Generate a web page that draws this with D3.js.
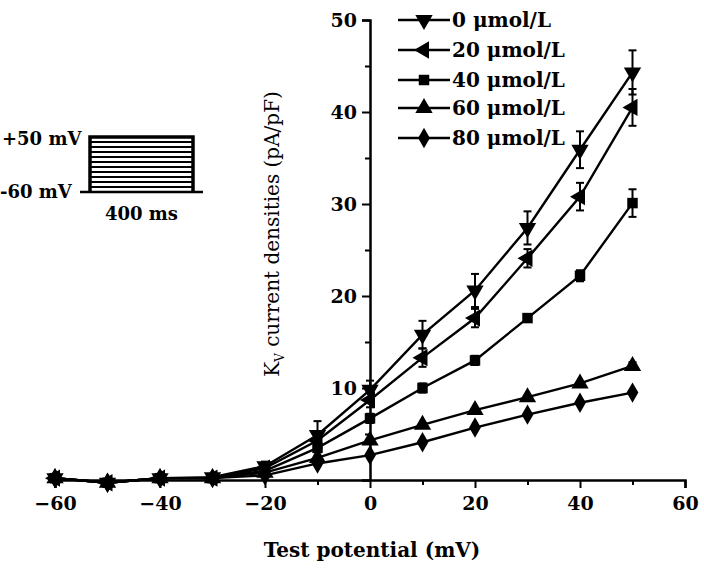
<!DOCTYPE html>
<html><head><meta charset="utf-8">
<script src="https://cdn.jsdelivr.net/npm/d3@7/dist/d3.min.js"></script>
<style>
html,body{margin:0;padding:0;background:#fff;}
text{font-family:"DejaVu Serif","Liberation Serif",serif;font-weight:bold;fill:#000;}
</style></head>
<body><svg id="c" width="704" height="576"></svg>
<script>
// ---- data ----
const potentials = [-60,-50,-40,-30,-20,-10,0,10,20,30,40,50];
const seriesNames = ["0 μmol/L","20 μmol/L","40 μmol/L","60 μmol/L","80 μmol/L"];
const values0  = [0.2,-0.3,0.2,0.3,1.5,4.9,9.8,15.8,20.6,27.4,35.9,44.3];
const values20 = [0.2,-0.3,0.2,0.2,1.3,4.3,8.7,13.3,17.6,24.1,30.8,40.5];
const values40 = [0.2,-0.3,0.2,0.2,1.0,3.5,6.7,10.0,13.0,17.6,22.2,30.1];
const values60 = [0.2,-0.3,0.2,0.2,0.8,2.4,4.3,6.0,7.6,9.0,10.5,12.4];
const values80 = [0.2,-0.3,0.2,0.2,0.5,1.8,2.7,4.1,5.7,7.1,8.4,9.5];
const errors0  = [0.3,0.3,0.3,0.3,0.5,1.5,1.0,1.5,1.8,1.8,2.0,2.4];
const errors20 = [0.3,0.3,0.3,0.3,0.4,1.0,0.8,1.0,1.0,1.0,1.5,2.0];
const errors40 = [0.3,0.3,0.3,0.3,0.3,0.5,0.5,0.5,0.5,0.4,0.6,1.5];
const errors60 = [0.3,0.3,0.3,0.3,0.3,0.3,0.3,0.3,0.3,0.3,0.3,0.4];
const errors80 = [0.3,0.3,0.3,0.3,0.3,0.3,0.3,0.3,0.3,0.3,0.3,0.3];
const xTicks = [-60,-40,-20,0,20,40,60];
const xMinorTicks = [-50,-30,-10,10,30,50];
const yTicks = [10,20,30,40,50];
const yMinorTicks = [5,15,25,35,45];
const pulseLevels = [-60,-50,-40,-30,-20,-10,0,10,20,30,40,50];

const svg = d3.select("#c");
const x = d3.scaleLinear().domain([-60,60]).range([55,685]);
const y = d3.scaleLinear().domain([0,50]).range([480,20]);

const symbols = [
  d3.symbol().type(d3.symbolTriangle).size(130),
  d3.symbol().type(d3.symbolTriangle).size(130),
  d3.symbol().type(d3.symbolSquare).size(110),
  d3.symbol().type(d3.symbolTriangle).size(130),
  d3.symbol().type(d3.symbolDiamond).size(120)
];
const rotations = [180, -90, 0, 0, 0];

// axes
const xAxis = d3.axisBottom(x).tickValues(xTicks).tickSize(8).tickPadding(9).tickFormat(d3.format("d"));
const gx = svg.append("g").attr("transform","translate(0,"+y(0)+")").call(xAxis);
gx.selectAll("line").attr("stroke-width",2);
gx.select(".domain").attr("stroke-width",2.5);
gx.selectAll("text").style("font-size","19px").style("font-family","DejaVu Serif");
svg.append("g").attr("transform","translate(0,"+y(0)+")")
  .call(d3.axisBottom(x).tickValues(xMinorTicks).tickSize(5).tickFormat(""))
  .call(g=>{g.select(".domain").remove(); g.selectAll("line").attr("stroke-width",2);});

const yAxis = d3.axisLeft(y).tickValues(yTicks).tickSize(8).tickPadding(5);
const gy = svg.append("g").attr("transform","translate("+x(0)+",0)").call(yAxis);
gy.selectAll("line").attr("stroke-width",2);
gy.select(".domain").attr("stroke-width",2.5);
gy.selectAll("text").style("font-size","19px").style("font-family","DejaVu Serif");
svg.append("g").attr("transform","translate("+x(0)+",0)")
  .call(d3.axisLeft(y).tickValues(yMinorTicks).tickSize(5).tickFormat(""))
  .call(g=>{g.select(".domain").remove(); g.selectAll("line").attr("stroke-width",2);});

// series
const allVals = [values0,values20,values40,values60,values80];
const allErr = [errors0,errors20,errors40,errors60,errors80];
const line = d3.line().x(d=>x(d[0])).y(d=>y(d[1]));
allVals.forEach((vals,i)=>{
  const pts = potentials.map((p,j)=>[p,vals[j],allErr[i][j]]);
  const g = svg.append("g");
  g.append("path").datum(pts).attr("d",line).attr("fill","none").attr("stroke","#000").attr("stroke-width",2.4);
  const eb = g.selectAll(".eb").data(pts.filter(d=>d[2]>0.35)).enter().append("g");
  eb.append("line").attr("x1",d=>x(d[0])).attr("x2",d=>x(d[0]))
    .attr("y1",d=>y(d[1]+d[2])).attr("y2",d=>y(d[1]-d[2])).attr("stroke","#000").attr("stroke-width",2);
  eb.append("line").attr("x1",d=>x(d[0])-4).attr("x2",d=>x(d[0])+4)
    .attr("y1",d=>y(d[1]+d[2])).attr("y2",d=>y(d[1]+d[2])).attr("stroke","#000").attr("stroke-width",2);
  eb.append("line").attr("x1",d=>x(d[0])-4).attr("x2",d=>x(d[0])+4)
    .attr("y1",d=>y(d[1]-d[2])).attr("y2",d=>y(d[1]-d[2])).attr("stroke","#000").attr("stroke-width",2);
  g.selectAll(".pt").data(pts).enter().append("path")
    .attr("d",symbols[i]).attr("fill","#000")
    .attr("transform",d=>"translate("+x(d[0])+","+y(d[1])+") rotate("+rotations[i]+")");
});

// legend
const legRows = [20,50,80,108,138];
seriesNames.forEach((n,i)=>{
  const g = svg.append("g").attr("transform","translate(0,"+legRows[i]+")");
  g.append("line").attr("x1",398).attr("x2",450).attr("y1",0).attr("y2",0).attr("stroke","#000").attr("stroke-width",2.4);
  g.append("path").attr("d",symbols[i]).attr("fill","#000").attr("transform","translate(424,0) rotate("+rotations[i]+")");
  g.append("text").attr("x",452).attr("y",7).style("font-size","20px").text(n);
});

// axis titles
svg.append("text").attr("x",372).attr("y",557).attr("text-anchor","middle").style("font-size","20px").text("Test potential (mV)");
const yl = svg.append("text").attr("transform","translate(279,234) rotate(-90)").attr("text-anchor","middle")
  .style("font-size","20px").style("font-weight","normal");
yl.append("tspan").text("K");
yl.append("tspan").attr("dy",5).style("font-size","12px").text("V");
yl.append("tspan").attr("dy",-5).text(" current densities (pA/pF)");

// inset voltage protocol
const ix = d3.scaleLinear().domain([0,400]).range([90,193]);
const iy = d3.scaleLinear().domain([-60,50]).range([192,137]);
const ig = svg.append("g");
pulseLevels.forEach(v=>{
  ig.append("path").attr("d","M"+ix(0)+","+iy(-60)+"V"+iy(v)+"H"+ix(400)+"V"+iy(-60))
    .attr("fill","none").attr("stroke","#000").attr("stroke-width",v===50?3.5:2);
});
ig.append("line").attr("x1",80).attr("x2",203).attr("y1",iy(-60)).attr("y2",iy(-60)).attr("stroke","#000").attr("stroke-width",2.5);
ig.append("text").attr("x",2).attr("y",iy(50)+8).style("font-size","18px").text("+50 mV");
ig.append("text").attr("x",0).attr("y",iy(-60)+6).style("font-size","18px").text("-60 mV");
ig.append("text").attr("x",ix(200)).attr("y",220).attr("text-anchor","middle").style("font-size","18px").text("400 ms");
</script></body></html>
